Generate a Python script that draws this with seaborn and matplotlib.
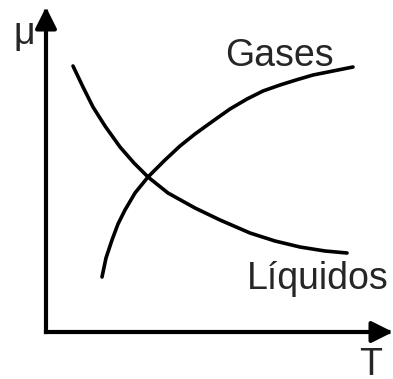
import numpy as np
import pandas as pd
import matplotlib
matplotlib.use('Agg')
import matplotlib.pyplot as plt
import seaborn as sns

# curves (arbitrary units, origin at the axes corner)
liq_T = [27, 37, 47, 59, 74, 88, 102, 122, 149, 174, 204, 229, 254, 279, 301]
liq_mu = [266, 245, 225, 206, 185, 169, 155, 139, 124, 112, 99, 91, 85, 81, 79]
gas_T = [56, 60, 66, 72, 79, 89, 102, 119, 134, 149, 167, 184, 201, 217, 234,
         250, 267, 287, 307]
gas_mu = [55, 74, 92, 108, 122, 139, 155, 172, 186, 198, 211, 223, 233, 241, 247,
          252, 257, 261, 265]

df = pd.concat([
    pd.DataFrame({'T': liq_T, 'mu': liq_mu, 'fase': 'Líquidos'}),
    pd.DataFrame({'T': gas_T, 'mu': gas_mu, 'fase': 'Gases'}),
])

sns.set_style('white')
plt.rcParams['font.family'] = ['Liberation Sans', 'DejaVu Sans']

fig = plt.figure(figsize=(3.93, 3.79), dpi=100)
ax = fig.add_axes([46 / 393, 47 / 379, 347 / 393, 325 / 379])
sns.lineplot(data=df, x='T', y='mu', units='fase', estimator=None, sort=False,
             color='black', lw=2.6, ax=ax, legend=False)
ax.set_xlim(0, 347)
ax.set_ylim(0, 325)
ax.set_axis_off()

arrow = dict(arrowstyle='-|>', lw=3, color='black', mutation_scale=32,
             shrinkA=0, shrinkB=0, capstyle='projecting')
ax.annotate('', xy=(1, 0), xytext=(0, 0), xycoords='axes fraction',
            arrowprops=arrow, annotation_clip=False)
ax.annotate('', xy=(0, 1), xytext=(0, 0), xycoords='axes fraction',
            arrowprops=arrow, annotation_clip=False)

ax.text(179, 266, 'Gases', fontsize=27, ha='left', va='baseline')
ax.text(201, 43, 'Líquidos', fontsize=27, ha='left', va='baseline')
fig.text(24 / 393, 1 - 44 / 379, 'μ', fontsize=27, ha='center', va='baseline')
fig.text(371 / 393, 1 - 375 / 379, 'T', fontsize=27, ha='center', va='baseline')

fig.savefig('out.png', dpi=100)
